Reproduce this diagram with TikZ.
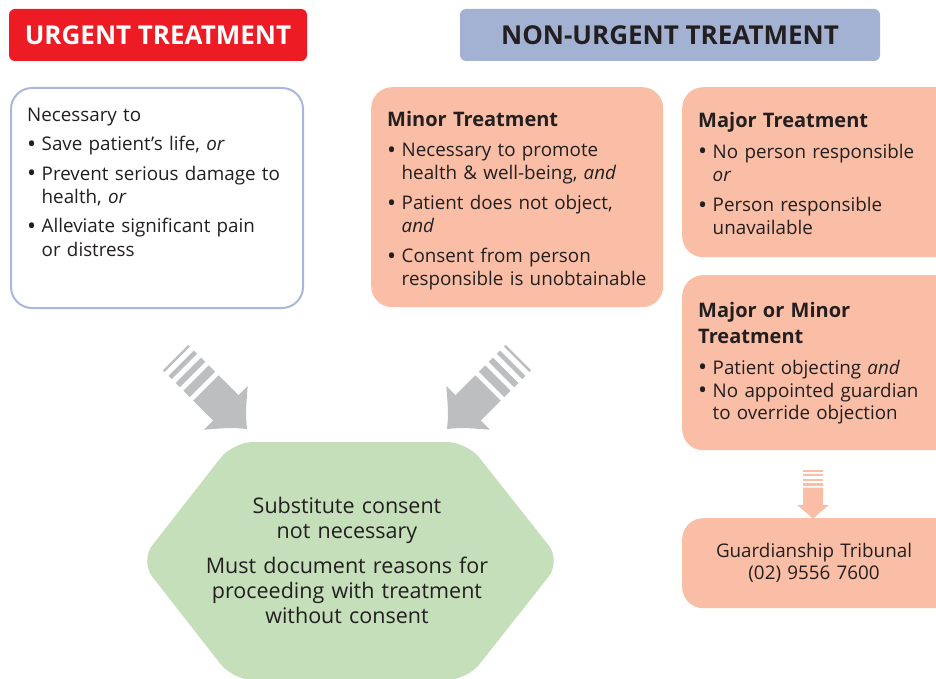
\documentclass[tikz,border=0pt]{standalone}
\usepackage{fontspec}
\setmainfont{Open Sans}
\definecolor{urgred}{HTML}{ED1C24}
\definecolor{hdrblue}{HTML}{A3B1D3}
\definecolor{bordblue}{HTML}{A9B8DA}
\definecolor{salmon}{HTML}{F9BEA5}
\definecolor{hexgreen}{HTML}{C5DFBA}
\definecolor{arrgray}{HTML}{BCBEC0}
\definecolor{txtc}{HTML}{231F20}
\newcommand\bigbul{\raisebox{-1.2pt}{\fontsize{24}{23}\selectfont\textbullet}}
\newcommand\bitem[1]{\par\hangindent=14.5pt\hangafter=1\noindent\makebox[14.5pt][l]{\bigbul}#1}
\newcommand\bodyfnt{\fontsize{18.8}{23}\selectfont}
\newcommand\headfnt{\bfseries\fontsize{20}{26}\selectfont}
\tikzset{
  hdr/.style={rounded corners=6pt, inner sep=0pt, minimum height=52pt,
    font=\bfseries\fontsize{26}{30}\selectfont},
  panel/.style={rounded corners=21pt, inner sep=0pt, anchor=north west},
  btext/.style={anchor=base west, inner sep=0pt, text width=300pt, align=left,
    text=txtc, font=\bodyfnt},
  bigarrow/.pic={
    \fill[arrgray] (-30,-31) .. controls (-12,-10) .. (0,0)
      .. controls (-12,10) .. (-30,31) -- (-30,18) -- (-58,18) -- (-58,-18)
      -- (-30,-18) -- cycle;
    \fill[arrgray] (-101,-18) rectangle (-98.5,18);
    \fill[arrgray] (-93,-18) rectangle (-88.5,18);
    \fill[arrgray] (-83,-18) rectangle (-77,18);
    \fill[arrgray] (-72,-18) rectangle (-63,18);
  },
  smallarrow/.pic={
    \fill[salmon] (-14,-16) .. controls (-5,-5) .. (0,0)
      .. controls (-5,5) .. (-14,16) -- (-14,10) -- (-31.5,10) -- (-31.5,-10)
      -- (-14,-10) -- cycle;
    \fill[salmon] (-49,-10) rectangle (-47.5,10);
    \fill[salmon] (-45,-10) rectangle (-43,10);
    \fill[salmon] (-40.5,-10) rectangle (-38,10);
    \fill[salmon] (-36,-10) rectangle (-33,10);
  }
}
\begin{document}
\begin{tikzpicture}[x=1pt,y=-1pt]
\path[use as bounding box] (0,0) rectangle (936,679);
\clip (0,0) rectangle (936,679);

% headers
\node[hdr, fill=urgred, text=white, minimum width=298pt] (urg) at (158,35) {URGENT TREATMENT};
\node[hdr, fill=hdrblue, text=txtc, minimum width=420pt] (nonurg) at (670,35) {NON-URGENT TREATMENT};

% panels
\node[panel, draw=bordblue, line width=2pt, fill=white, minimum width=292pt, minimum height=220pt] (ubox) at (10,87) {};
\node[panel, fill=salmon, minimum width=292pt, minimum height=220pt] (minor) at (371,87) {};
\node[panel, fill=salmon, minimum width=290pt, minimum height=170pt] (major) at (682,87) {};
\node[panel, fill=salmon, minimum width=290pt, minimum height=175pt] (majmin) at (682,275) {};
\node[panel, fill=salmon, minimum width=290pt, minimum height=90pt] (gt) at (682,518) {};

% texts
\node[btext] (utext) at (27,121.5) {\setlength{\parskip}{6.5pt}Necessary to
\bitem{Save patient's life, \textit{or}}
\bitem{Prevent serious damage to\newline health, \textit{or}}
\bitem{Alleviate significant pain\newline or distress}\par};

\node[btext] (mintext) at (387,127) {\setlength{\parskip}{7pt}{\headfnt Minor Treatment\par}
\bitem{Necessary to promote\newline health \& well-being, \textit{and}}
\bitem{Patient does not object,\newline \textit{and}}
\bitem{Consent from person\newline responsible is unobtainable}\par};

\node[btext] (majtext) at (698,128) {\fontsize{18.8}{22.3}\selectfont\setlength{\parskip}{8.5pt}{\headfnt Major Treatment\par}
\bitem{No person responsible\newline \textit{or}}
\bitem{Person responsible\newline unavailable}\par};

\node[btext] (mmtext) at (698,317.5) {\fontsize{18.8}{22.5}\selectfont\setlength{\parskip}{0pt}{\headfnt Major or Minor\newline Treatment\par}\vspace{8.5pt}
\bitem{Patient objecting \textit{and}}
\bitem{No appointed guardian\newline to override objection}\par};

\node[anchor=base, inner sep=0pt, text width=260pt, align=center, text=txtc, font=\fontsize{18.8}{22}\selectfont] (gttext) at (814,557.5) {Guardianship Tribunal\\(02) 9556 7600};

% hexagon
\fill[hexgreen, rounded corners=20pt] (233,442) -- (467,442) -- (561,561) -- (467,680) -- (233,680) -- (140,561) -- cycle;
\node[anchor=base, inner sep=0pt, text width=340pt, align=center, text=txtc, font=\fontsize{21.5}{25}\selectfont] (hextext) at (347,513)
  {Substitute consent\\not necessary\\[10pt]Must document reasons for\\proceeding with treatment\\without consent};

% arrows
\pic[rotate=-45] (larrow) at (247,429) {bigarrow};
\pic[rotate=-135] (rarrow) at (447,429) {bigarrow};
\pic[rotate=-90] (garrow) at (813,519) {smallarrow};
\end{tikzpicture}
\end{document}
